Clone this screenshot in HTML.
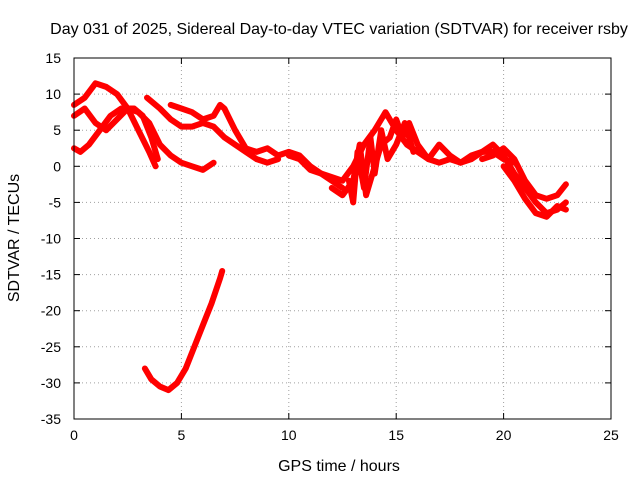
<!DOCTYPE html>
<html><head><meta charset="utf-8"><style>
body{margin:0;background:#fff}
svg{display:block;font-family:"Liberation Sans",sans-serif;font-size:14px}
</style></head><body>
<svg id="c" width="640" height="480" viewBox="0 0 640 480">
<rect width="640" height="480" fill="#fff"/>
<text x="339" y="34" text-anchor="middle" font-size="16">Day 031 of 2025, Sidereal Day-to-day VTEC variation (SDTVAR) for receiver rsby</text>
<text x="339" y="471" text-anchor="middle" font-size="16">GPS time / hours</text>
<text transform="translate(19,238) rotate(-90)" text-anchor="middle" font-size="16">SDTVAR / TECUs</text>
<g id="grid"></g><g id="series"></g><g id="axes"></g>
</svg>
<script>
const xTicks=[0,5,10,15,20,25];
const yTicks=[-35,-30,-25,-20,-15,-10,-5,0,5,10,15];
const arcA_t=[0,0.5,1,1.5,2,2.5,3,3.5,3.8];
const arcA_v=[8.5,9.5,11.5,11,10,8,5,2,0];
const arcB_t=[0,0.5,1,1.5,2,2.5,3,3.5,4,4.5,5,5.5,6,6.5];
const arcB_v=[7,8,6,5,6.5,8,7.5,6,3,1.5,0.5,0,-0.5,0.5];
const arcC_t=[0,0.3,0.7,1.2,1.7,2.2,2.8,3.2,3.6,3.9];
const arcC_v=[2.5,2,3,5,7,8,8,7,4,1];
const arcD_t=[3.4,4,4.5,5,5.5,6,6.5,7,7.5,8,8.5,9,9.5];
const arcD_v=[9.5,8,6.5,5.5,5.5,6,5.5,4,3,2,1,0.5,1];
const arcE_t=[4.5,5,5.5,6,6.5,6.8,7,7.5,8,8.5,9,9.5,10,10.5,11,11.5,12,12.5];
const arcE_v=[8.5,8,7.5,6.5,7,8.5,8,5,2.5,2,2.5,1.5,2,1.5,0,-1,-2,-3];
const arcF_t=[10,10.5,11,11.5,12,12.5,13,13.5,14,14.5,15,15.5,16,16.5,17,17.5,18,18.5,19,19.5,20,20.5];
const arcF_v=[1.5,1,-0.5,-1,-1.5,-2,0,3,5,7.5,5,3,2,1,0.5,1,0.5,1,2,2,1,0.5];
const arcG_t=[12,12.5,13,13.3,13.6,14,14.3,14.7,15,15.3,15.6,16,16.5,17,17.5,18,18.5,19,19.5,20,20.5,21,21.5,22,22.5,22.9];
const arcG_v=[-3,-4,-2,3,-4,0,3,4,6.5,4,6,3,1,3,1.5,0.5,1.5,2,3,1.5,-1,-3,-5,-6.5,-6,-5];
const arcH_t=[19,19.5,20,20.5,21,21.5,22,22.5,22.9];
const arcH_v=[1,1.5,2.5,1,-2,-4,-4.5,-4,-2.5];
const arcI_t=[12.8,13,13.2,13.5,13.8,14,14.3,14.6,15,15.4,15.8];
const arcI_v=[-2,-5,2,-3,4,-1,5,1,3,6,2];
const arcJ_t=[20,20.5,21,21.5,22,22.5,22.9];
const arcJ_v=[0,-2,-4.5,-6.5,-7,-5.5,-6];
const arcK_t=[3.3,3.6,4,4.4,4.8,5.2,5.6,6,6.4,6.8,6.9];
const arcK_v=[-28,-29.5,-30.5,-31,-30,-28,-25,-22,-19,-15.5,-14.5];
const arcs=[[arcA_t,arcA_v],[arcB_t,arcB_v],[arcC_t,arcC_v],[arcD_t,arcD_v],[arcE_t,arcE_v],[arcF_t,arcF_v],[arcG_t,arcG_v],[arcH_t,arcH_v],[arcI_t,arcI_v],[arcJ_t,arcJ_v],[arcK_t,arcK_v]];
const L=74,R=611,T=58,B=419;
const xs=t=>L+(t-0)/25*(R-L);
const ys=v=>B-(v+35)/50*(B-T);
const NS="http://www.w3.org/2000/svg";
function mk(tag,parent,attrs){const e=document.createElementNS(NS,tag);for(const k in attrs)e.setAttribute(k,attrs[k]);parent.appendChild(e);return e;}
const grid=document.getElementById('grid'),axes=document.getElementById('axes'),ser=document.getElementById('series');
xTicks.forEach(t=>{const x=xs(t);
 if(t>0&&t<25){const g=mk('line',grid,{x1:x,x2:x,y1:T,y2:B,stroke:'#a0a0a0','stroke-dasharray':'1,3'});
 
 }
 mk('line',axes,{x1:x,x2:x,y1:B,y2:B-6,stroke:'#000'});mk('line',axes,{x1:x,x2:x,y1:T,y2:T+6,stroke:'#000'});
 const lb=mk('text',axes,{x:x,y:B+21,'text-anchor':'middle'});lb.textContent=t;
 
 });
yTicks.forEach(v=>{const y=ys(v);
 if(v>-35&&v<15){const g=mk('line',grid,{x1:L,x2:R,y1:y,y2:y,stroke:'#a0a0a0','stroke-dasharray':'1,3'});
 
 }
 mk('line',axes,{x1:L,x2:L+6,y1:y,y2:y,stroke:'#000'});mk('line',axes,{x1:R,x2:R-6,y1:y,y2:y,stroke:'#000'});
 const lb=mk('text',axes,{x:L-13,y:y+5,'text-anchor':'end'});lb.textContent=v;
 
 });
const frame=mk('rect',axes,{x:L,y:T,width:R-L,height:B-T,fill:'none',stroke:'#000'});


arcs.forEach(([ts,vs])=>{
 const pts=ts.map((t,i)=>xs(t).toFixed(1)+','+ys(vs[i]).toFixed(1)).join(' ');
 const p=mk('polyline',ser,{points:pts,fill:'none',stroke:'#f00','stroke-width':6,'stroke-linejoin':'round','stroke-linecap':'round'});
 
 
});
</script>
</body></html>
